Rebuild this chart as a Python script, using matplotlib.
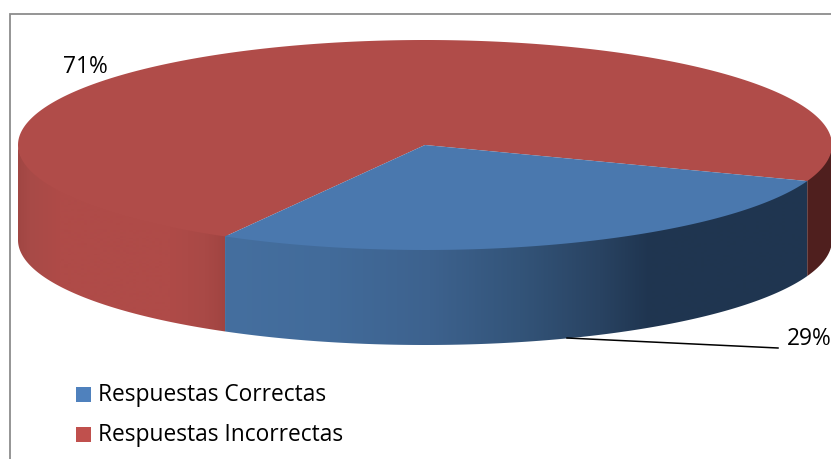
import numpy as np
import matplotlib
matplotlib.use("Agg")
import matplotlib.pyplot as plt
from matplotlib.patches import Polygon, Rectangle

# Data
categories = ["Respuestas Correctas", "Respuestas Incorrectas"]
values = [29, 71]
value_labels = ["29%", "71%"]

# Pie geometry, in pixels
CX, CY = 425, 145
RX, RY = 407, 105
DEPTH = 95
START = 18        # first slice starts here, degrees clockwise from the right
STRETCH = 1.125   # foreshortening of the angles in the 3D view

BLUE = "#4A78AE"
RED = "#B04C49"
DARK_RED = "#4F1F1E"

plt.rcParams["font.family"] = ["Open Sans", "DejaVu Sans"]

fig = plt.figure(figsize=(8.31, 4.59), dpi=100)
ax = fig.add_axes([0, 0, 1, 1])


def rim(a, b, n=300):
    # points on the top ellipse between two view angles (degrees)
    t = np.radians(np.linspace(a, b, n))
    return CX + RX * np.cos(t), CY + RY * np.sin(t)


def view_angle(deg):
    t = np.radians(deg)
    return np.degrees(np.arctan2(STRETCH * np.sin(t), np.cos(t))) % 360


def gradient_side(a, b, stops_x, stops_rgb):
    # side wall of a slice, shaded left to right; its top runs under the pie top
    x, y = rim(a, b)
    pts = np.vstack([np.column_stack([x, y - 2]),
                     np.column_stack([x[::-1], y[::-1] + DEPTH])])
    poly = Polygon(pts, closed=True, facecolor="none", edgecolor="none")
    ax.add_patch(poly)
    xs = np.arange(0, 832)
    rgb = np.array([matplotlib.colors.to_rgb(c) for c in stops_rgb])
    img = np.column_stack([np.interp(xs, stops_x, rgb[:, i]) for i in range(3)])
    im = ax.imshow(img[np.newaxis, :, :], extent=(0, 831, 459, 0), aspect="auto",
                   interpolation="bilinear", zorder=2)
    im.set_clip_path(poly)


# Slice angles come from the values
fractions = np.array(values) / sum(values)
a0 = view_angle(START)
a1 = view_angle(START + fractions[0] * 360)

# Frame
ax.add_patch(Rectangle((9.5, 14), 900, 600, facecolor="white", edgecolor="#8C8C8C",
                       linewidth=1.3, zorder=1))

# Side walls
gradient_side(a1, 180, [17, 30, 60, 170, 205, 226],
              ["#A04643", "#A84A47", "#AF4B48", "#AF4B48", "#A94946", "#A04441"])
gradient_side(a0, a1, [226, 330, 430, 520, 600, 650, 808],
              ["#456F9F", "#426B9A", "#3D628E", "#335479", "#294362", "#1F3550", "#203650"])
x, y = rim(0, a0)
ax.fill(np.r_[x, x[::-1]], np.r_[y - 2, y[::-1] + DEPTH], color=DARK_RED, lw=0, zorder=2)

# Top of the pie
x, y = rim(a1, a0 + 360)
ax.fill(np.r_[CX, x], np.r_[CY, y], color=RED, lw=0, zorder=3)
x, y = rim(a0, a1)
ax.fill(np.r_[CX, x], np.r_[CY, y], color=BLUE, lw=0, zorder=3)

# Data labels
ax.plot([567, 778], [338, 348], color="black", lw=1.1, zorder=4)
ax.text(787, 339, value_labels[0], fontsize=16.4, color="black", va="center", ha="left", zorder=5)
ax.text(63, 67, value_labels[1], fontsize=16.4, color="black", va="center", ha="left", zorder=5)

# Legend
for name, col, ypos in zip(categories, ["#4F81BD", "#C0504D"], [394.5, 434.5]):
    ax.add_patch(Rectangle((76, ypos - 7.5), 15, 15, facecolor=col, edgecolor="none", zorder=4))
    ax.text(98, ypos + 0.5, name, fontsize=16.4, color="black", va="center", ha="left", zorder=5)

ax.set_xlim(0, 831)
ax.set_ylim(459, 0)
ax.axis("off")

fig.savefig("out.png", dpi=100, facecolor="white")
plt.close()
